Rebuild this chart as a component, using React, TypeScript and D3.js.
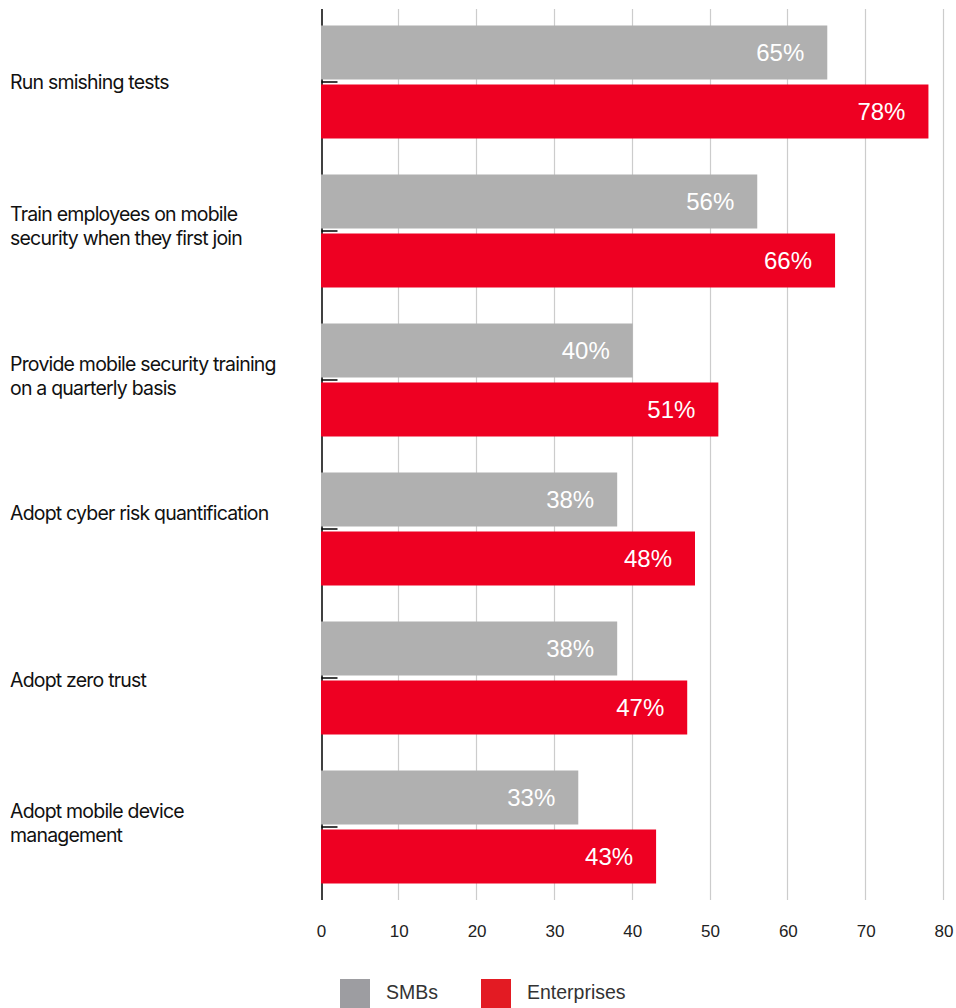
import React from "react";
import * as d3 from "d3";

const categories: string[][] = [
  ["Run smishing tests"],
  ["Train employees on mobile", "security when they first join"],
  ["Provide mobile security training", "on a quarterly basis"],
  ["Adopt cyber risk quantification"],
  ["Adopt zero trust"],
  ["Adopt mobile device", "management"],
];
const series = ["SMBs", "Enterprises"];
const smbValues = [65, 56, 40, 38, 38, 33];
const entValues = [78, 66, 51, 48, 47, 43];
const xTicks = [0, 10, 20, 30, 40, 50, 60, 70, 80];

// layout-only: baseline of first label line relative to the band centre
const labelBaselineOffsets = [7, -10, -9, -9, 9, -9];

const barColors = ["#b0b0b0", "#ee0022"];
const legendColors = ["#9d9da1", "#e31b23"];

const W = 956;
const H = 1008;

export default function App() {
  const keys = categories.map((c) => c.join(" "));
  const x = d3.scaleLinear().domain([0, 80]).range([321.5, 944]);
  const pi = 36 / 149;
  const y0 = d3
    .scaleBand<string>()
    .domain(keys)
    .range([7.5, 901.5])
    .paddingInner(pi)
    .paddingOuter(pi / 2);
  const y1 = d3
    .scaleBand<string>()
    .domain(series)
    .range([0, y0.bandwidth()])
    .paddingInner(5 / 59);
  const values = [smbValues, entValues];
  const axisTop = 9;
  const axisBottom = 900;
  const sans = "'Liberation Sans', Arial, Helvetica, sans-serif";
  const labelFont = "Inter, 'Noto Sans', sans-serif";

  return (
    <svg
      width={W}
      height={H}
      style={{ position: "absolute", left: 0, top: 0, background: "#fff" }}
    >
      {/* gridlines */}
      {xTicks.slice(1).map((t) => (
        <line
          key={"g" + t}
          x1={Math.round(x(t)) - 0.5}
          x2={Math.round(x(t)) - 0.5}
          y1={axisTop}
          y2={axisBottom}
          stroke="#cccccc"
          strokeWidth={1.2}
        />
      ))}
      {/* axis line */}
      <line
        x1={x(0) + 0.5}
        x2={x(0) + 0.5}
        y1={axisTop}
        y2={axisBottom}
        stroke="#000"
        strokeWidth={1.5}
      />
      {/* category ticks */}
      {keys.map((k) => {
        const cy = (y0(k) as number) + y0.bandwidth() / 2;
        return (
          <line
            key={"t" + k}
            x1={x(0)}
            x2={x(0) + 16}
            y1={cy}
            y2={cy}
            stroke="#000"
            strokeWidth={1.5}
          />
        );
      })}
      {/* bars */}
      {keys.map((k, i) => (
        <g key={"b" + k} transform={`translate(0,${y0(k)})`}>
          {series.map((s, si) => {
            const v = values[si][i];
            const by = y1(s) as number;
            return (
              <g key={s}>
                <rect
                  x={x(0) - 0.5}
                  y={by}
                  width={x(v) - x(0) + 0.5}
                  height={y1.bandwidth()}
                  fill={barColors[si]}
                />
                <text
                  x={x(v) - 23}
                  y={by + y1.bandwidth() / 2}
                  dy="0.36em"
                  textAnchor="end"
                  fill="#fff"
                  fontFamily={sans}
                  fontSize={24}
                >
                  {v}%
                </text>
              </g>
            );
          })}
        </g>
      ))}
      {/* category labels */}
      {categories.map((lines, i) => {
        const cy = (y0(keys[i]) as number) + y0.bandwidth() / 2;
        const lh = 24;
        const start = cy + labelBaselineOffsets[i];
        return (
          <text
            key={"l" + i}
            x={10}
            fontFamily={labelFont}
            fontSize={19.5}
            letterSpacing={-0.8}
            fill="#111"
          >
            {lines.map((ln, j) => (
              <tspan key={j} x={10} y={start + j * lh}>
                {ln}
              </tspan>
            ))}
          </text>
        );
      })}
      {/* x tick labels */}
      {xTicks.map((t) => (
        <text
          key={"x" + t}
          x={x(t)}
          y={931}
          dy="0.36em"
          textAnchor="middle"
          fontFamily={sans}
          fontSize={17}
          fill="#222"
        >
          {t}
        </text>
      ))}
      {/* legend */}
      {series.map((s, si) => {
        const lx = si === 0 ? 340 : 481;
        return (
          <g key={"leg" + s}>
            <rect x={lx} y={979} width={30} height={30} fill={legendColors[si]} />
            <text
              x={lx + 46}
              y={992}
              dy="0.36em"
              fontFamily={sans}
              fontSize={19.5}
              fill="#333"
            >
              {s}
            </text>
          </g>
        );
      })}
    </svg>
  );
}
